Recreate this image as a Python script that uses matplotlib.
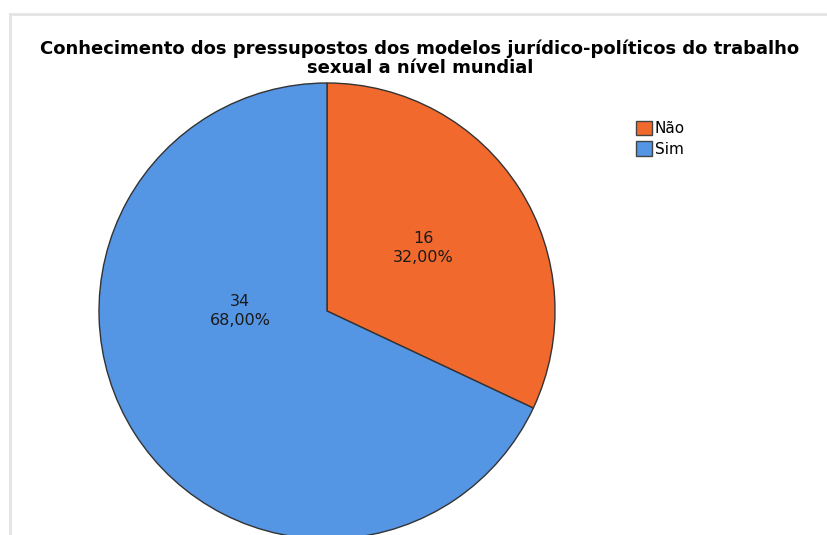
import matplotlib.pyplot as plt
from matplotlib.lines import Line2D
from matplotlib.patches import Patch

categorias = ['Não', 'Sim']
contagens = [16, 34]
percentuais = ['32,00%', '68,00%']
cores = ['#F2692E', '#5495E4']

titulo = ('Conhecimento dos pressupostos dos modelos jurídico-políticos do trabalho\n'
          'sexual a nível mundial')

W, H = 827, 535
fig = plt.figure(figsize=(W / 100, H / 100), dpi=100)

# moldura cinza clara (topo e esquerda)
fig.add_artist(Line2D([10 / W, 10 / W], [0, 1 - 14 / H], color='#e4e4e4', lw=2))
fig.add_artist(Line2D([10 / W, 1], [1 - 14 / H, 1 - 14 / H], color='#e4e4e4', lw=2))

fig.text(420 / W, 1 - 58 / H, titulo, ha='center', va='center',
         fontsize=13, fontweight='bold', linespacing=1.1)

# eixo da pizza: centro (327, 311), raio 228 px
r = 228
ax = fig.add_axes([(327 - r) / W, 1 - (311 + r) / H, 2 * r / W, 2 * r / H])
wedges, _ = ax.pie(contagens, colors=cores, startangle=90, counterclock=False,
                   wedgeprops=dict(edgecolor='#333333', linewidth=1))
for w in wedges:
    w.set_clip_on(False)
ax.set_xlim(-1, 1)
ax.set_ylim(-1, 1)
ax.set_aspect('equal')
ax.axis('off')

# rótulos
pos = [(423, 248), (240, 311)]
for (px, py), n, p in zip(pos, contagens, percentuais):
    fig.text(px / W, 1 - py / H, f'{n}\n{p}', ha='center', va='center',
             fontsize=11.5, color='#1a1a1a', linespacing=1.3)

handles = [Patch(facecolor=c, edgecolor='#444444', label=l) for c, l in zip(cores, categorias)]
fig.legend(handles=handles, loc='upper left', bbox_to_anchor=(625 / W, 1 - 110 / H),
           frameon=False, fontsize=11, handlelength=1.05, handleheight=1.05,
           handletextpad=0.2, labelspacing=0.35, borderpad=0.2)

fig.savefig('out.png', dpi=100, facecolor='white')
